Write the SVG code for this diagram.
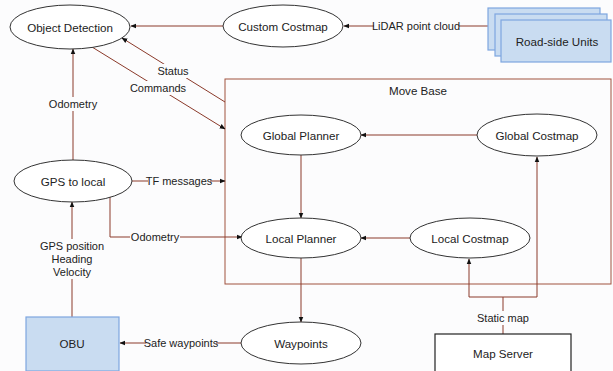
<svg xmlns="http://www.w3.org/2000/svg" width="613" height="371" viewBox="0 0 613 371">
<defs>
<marker id="ah" viewBox="0 0 10 10" refX="9" refY="5" markerWidth="6" markerHeight="6" orient="auto" markerUnits="userSpaceOnUse">
<path d="M0,1 L10,5 L0,9 Z" fill="#111"/>
</marker>
<style>
text{font-family:"Liberation Sans",Arial,sans-serif;font-size:11px;fill:#222;text-anchor:middle;dominant-baseline:central}
.big{font-size:11.6px}
.node{fill:#fff;stroke:#333;stroke-width:1}
.blue{fill:#c9dcf1;stroke:#7ea6e0;stroke-width:1.2}
.e{fill:none;stroke:#8b3a2a;stroke-width:1}
.ea{fill:none;stroke:#8b3a2a;stroke-width:1;marker-end:url(#ah)}
.lbl{fill:#fcfcfd;stroke:none}
</style>
</defs>
<rect width="613" height="371" fill="#fcfcfd"/>

<g id="move-base">
<rect x="225" y="79" width="386" height="205" fill="none" stroke="#a0523f" stroke-width="1"/>
<text x="418" y="90" class="big">Move Base</text>
</g>

<g id="connectors">
<line class="ea" x1="223" y1="26" x2="131" y2="26"/>
<line class="ea" x1="489" y1="26" x2="344" y2="26"/>
<line class="ea" x1="225" y1="102" x2="122" y2="38"/>
<line class="ea" x1="92" y1="47" x2="225" y2="129"/>
<line class="ea" x1="73" y1="160" x2="73" y2="49"/>
<line class="ea" x1="132" y1="181" x2="225" y2="181"/>
<polyline class="ea" points="110,197 110,237 242,237"/>
<line class="ea" x1="72" y1="317" x2="72" y2="202"/>
<line class="ea" x1="477" y1="135" x2="361" y2="135"/>
<line class="ea" x1="301" y1="155" x2="301" y2="218"/>
<line class="ea" x1="410" y1="238" x2="361" y2="238"/>
<line class="ea" x1="301" y1="258" x2="301" y2="322"/>
<line class="ea" x1="242" y1="343" x2="120" y2="343"/>
<line class="e" x1="503" y1="334" x2="503" y2="297"/>
<polyline class="ea" points="503,297 469,297 469,259"/>
<polyline class="ea" points="503,297 537,297 537,157"/>
<rect class="lbl" x="374" y="19" width="85" height="14"/>
<text x="416" y="26">LiDAR point cloud</text>
<rect class="lbl" x="157" y="64" width="33" height="14"/>
<text x="173" y="71">Status</text>
<rect class="lbl" x="131" y="81" width="54" height="14"/>
<text x="158" y="88">Commands</text>
<rect class="lbl" x="48" y="97" width="50" height="14"/>
<text x="73" y="104">Odometry</text>
<rect class="lbl" x="148" y="174" width="62" height="14"/>
<text x="179" y="181">TF messages</text>
<rect class="lbl" x="130" y="230" width="50" height="14"/>
<text x="155" y="237">Odometry</text>
<rect class="lbl" x="40" y="239" width="64" height="40"/>
<text x="72" y="246">GPS position</text>
<text x="72" y="259">Heading</text>
<text x="72" y="272">Velocity</text>
<rect class="lbl" x="146" y="336" width="70" height="14"/>
<text x="181" y="343">Safe waypoints</text>
<rect class="lbl" x="476" y="311" width="54" height="14"/>
<text x="503" y="318">Static map</text>
</g>

<g id="object-detection">
<ellipse class="node" cx="70" cy="27" rx="60" ry="22"/>
<text x="70" y="27" class="big">Object Detection</text>
</g>
<g id="custom-costmap">
<ellipse class="node" cx="283" cy="26" rx="60" ry="21"/>
<text x="283" y="26" class="big">Custom Costmap</text>
</g>
<g id="road-side-units">
<rect class="blue" x="488" y="8" width="112" height="42"/>
<rect class="blue" x="495" y="14" width="112" height="42"/>
<rect class="blue" x="501" y="20" width="110" height="42"/>
<text x="557" y="41" class="big">Road-side Units</text>
</g>
<g id="global-planner">
<ellipse class="node" cx="301" cy="135" rx="60" ry="20"/>
<text x="301" y="135" class="big">Global Planner</text>
</g>
<g id="global-costmap">
<ellipse class="node" cx="537" cy="135" rx="60" ry="21"/>
<text x="537" y="135" class="big">Global Costmap</text>
</g>
<g id="gps-to-local">
<ellipse class="node" cx="73" cy="181" rx="59" ry="21"/>
<text x="73" y="181" class="big">GPS to local</text>
</g>
<g id="local-planner">
<ellipse class="node" cx="301" cy="238" rx="60" ry="20"/>
<text x="301" y="238" class="big">Local Planner</text>
</g>
<g id="local-costmap">
<ellipse class="node" cx="470" cy="238" rx="60" ry="20"/>
<text x="470" y="238" class="big">Local Costmap</text>
</g>
<g id="waypoints">
<ellipse class="node" cx="301" cy="343" rx="60" ry="21"/>
<text x="301" y="343" class="big">Waypoints</text>
</g>
<g id="obu">
<rect class="blue" x="26" y="317" width="93" height="54"/>
<text x="72" y="343" class="big">OBU</text>
</g>
<g id="map-server">
<rect x="435" y="334" width="136" height="38" fill="#fff" stroke="#222" stroke-width="1.2"/>
<text x="503" y="353" class="big">Map Server</text>
</g>
</svg>
